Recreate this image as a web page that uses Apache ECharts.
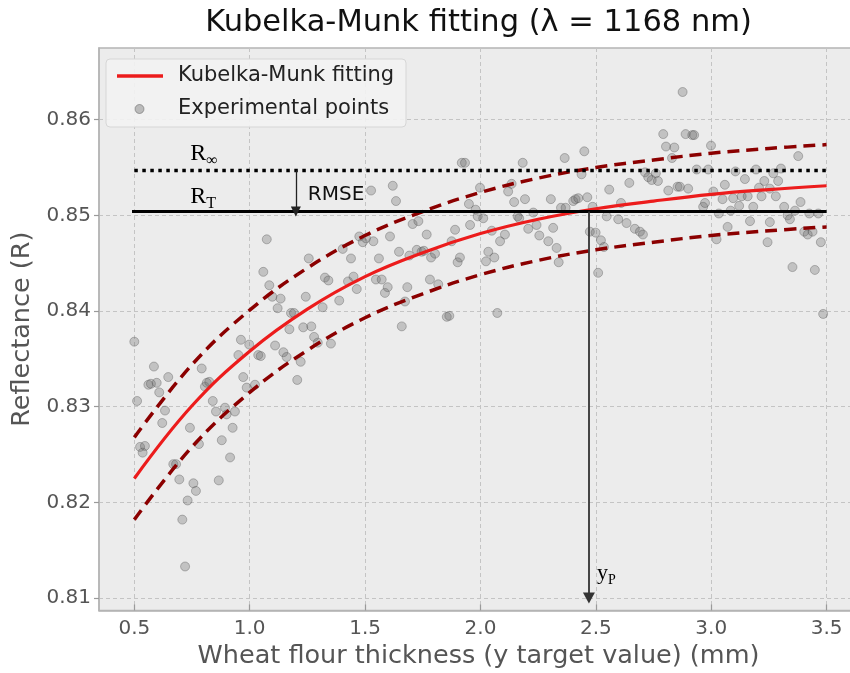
<!DOCTYPE html>
<html>
<head>
<meta charset="utf-8">
<script src="https://cdn.jsdelivr.net/npm/echarts@6/dist/echarts.min.js"></script>
<style>
  html, body { margin: 0; padding: 0; background: #ffffff; }
  #chart { width: 850px; height: 673px; }
</style>
</head>
<body>
<div id="chart"></div>
<script>
// Fitted Kubelka-Munk curve and its +/- RMSE band
const fitX   = [0.5, 0.75, 1.0, 1.25, 1.5, 1.75, 2.0, 2.25, 2.5, 2.75, 3.0, 3.25, 3.5];
const fitR   = [0.8225, 0.8301, 0.8358, 0.8402, 0.8436, 0.8461, 0.8481, 0.8496, 0.8507, 0.8515, 0.8522, 0.8527, 0.8531];
const upperR = [0.8268, 0.8344, 0.8401, 0.8445, 0.8479, 0.8504, 0.8524, 0.8539, 0.8550, 0.8558, 0.8565, 0.8570, 0.8574];
const lowerR = [0.8182, 0.8258, 0.8315, 0.8359, 0.8393, 0.8418, 0.8438, 0.8453, 0.8464, 0.8472, 0.8479, 0.8484, 0.8488];

// Measured reflectance against flour thickness
const pointsX = [
  0.500, 0.512, 0.525, 0.546, 0.536, 0.561, 0.572, 0.585, 0.597, 0.608, 0.621, 0.633, 0.647, 0.669, 0.681, 0.695,
  0.708, 0.720, 0.731, 0.741, 0.756, 0.767, 0.780, 0.792, 0.806, 0.814, 0.825, 0.840, 0.854, 0.866, 0.879, 0.893,
  0.900, 0.915, 0.926, 0.936, 0.951, 0.962, 0.972, 0.987, 0.998, 1.023, 1.037, 1.048, 1.059, 1.074, 1.085, 1.098,
  1.110, 1.121, 1.134, 1.146, 1.160, 1.172, 1.179, 1.192, 1.206, 1.221, 1.232, 1.243, 1.256, 1.267, 1.279, 1.295,
  1.316, 1.326, 1.341, 1.352, 1.388, 1.403, 1.426, 1.439, 1.450, 1.464, 1.475, 1.490, 1.504, 1.526, 1.536, 1.547,
  1.560, 1.572, 1.586, 1.598, 1.608, 1.620, 1.634, 1.647, 1.659, 1.673, 1.683, 1.692, 1.706, 1.724, 1.731, 1.745,
  1.755, 1.767, 1.781, 1.786, 1.803, 1.817, 1.854, 1.865, 1.875, 1.890, 1.901, 1.911, 1.919, 1.933, 1.955, 1.950,
  1.979, 1.988, 1.998, 2.012, 2.024, 2.034, 2.049, 2.060, 2.073, 2.085, 2.106, 2.120, 2.135, 2.146, 2.161, 2.168,
  2.183, 2.193, 2.207, 2.229, 2.243, 2.255, 2.294, 2.305, 2.315, 2.330, 2.339, 2.349, 2.365, 2.369, 2.402, 2.412,
  2.424, 2.438, 2.450, 2.463, 2.474, 2.486, 2.499, 2.510, 2.522, 2.535, 2.547, 2.558, 2.597, 2.609, 2.633, 2.645,
  2.669, 2.691, 2.704, 2.713, 2.727, 2.742, 2.760, 2.769, 2.792, 2.804, 2.814, 2.830, 2.840, 2.854, 2.864, 2.876,
  2.889, 2.900, 2.918, 2.926, 2.937, 2.965, 2.973, 2.987, 2.999, 3.009, 3.023, 3.033, 3.049, 3.059, 3.071, 3.084,
  3.095, 3.105, 3.121, 3.132, 3.146, 3.158, 3.168, 3.182, 3.194, 3.207, 3.218, 3.230, 3.244, 3.254, 3.254, 3.269,
  3.280, 3.290, 3.302, 3.316, 3.331, 3.341, 3.352, 3.363, 3.377, 3.387, 3.403, 3.418, 3.425, 3.439, 3.449, 3.464,
  3.475, 3.485
];
const pointsR = [
  0.8368, 0.8306, 0.8258, 0.8259, 0.8252, 0.8323, 0.8324, 0.8342, 0.8325, 0.8315, 0.8283, 0.8296, 0.8331, 0.8240, 0.8240, 0.8224,
  0.8182, 0.8133, 0.8202, 0.8278, 0.8220, 0.8212, 0.8261, 0.8340, 0.8321, 0.8325, 0.8326, 0.8306, 0.8295, 0.8223, 0.8265, 0.8299,
  0.8292, 0.8247, 0.8278, 0.8295, 0.8354, 0.8370, 0.8331, 0.8320, 0.8365, 0.8323, 0.8354, 0.8353, 0.8441, 0.8475, 0.8427, 0.8415,
  0.8364, 0.8403, 0.8413, 0.8357, 0.8352, 0.8381, 0.8398, 0.8398, 0.8328, 0.8347, 0.8383, 0.8415, 0.8455, 0.8384, 0.8373, 0.8367,
  0.8404, 0.8435, 0.8432, 0.8366, 0.8411, 0.8465, 0.8431, 0.8455, 0.8436, 0.8423, 0.8478, 0.8472, 0.8476, 0.8526, 0.8473, 0.8433,
  0.8455, 0.8433, 0.8419, 0.8425, 0.8478, 0.8531, 0.8515, 0.8462, 0.8384, 0.8410, 0.8425, 0.8458, 0.8491, 0.8464, 0.8494, 0.8462,
  0.8463, 0.8480, 0.8433, 0.8456, 0.8460, 0.8428, 0.8394, 0.8395, 0.8473, 0.8485, 0.8451, 0.8456, 0.8555, 0.8555, 0.8490, 0.8512,
  0.8506, 0.8499, 0.8529, 0.8497, 0.8452, 0.8462, 0.8484, 0.8456, 0.8398, 0.8473, 0.8480, 0.8525, 0.8533, 0.8514, 0.8499, 0.8497,
  0.8555, 0.8517, 0.8486, 0.8503, 0.8490, 0.8479, 0.8473, 0.8517, 0.8487, 0.8466, 0.8451, 0.8508, 0.8560, 0.8508, 0.8515, 0.8517,
  0.8518, 0.8543, 0.8567, 0.8519, 0.8483, 0.8509, 0.8482, 0.8440, 0.8474, 0.8467, 0.8499, 0.8527, 0.8496, 0.8513, 0.8492, 0.8534,
  0.8486, 0.8483, 0.8480, 0.8545, 0.8540, 0.8537, 0.8544, 0.8536, 0.8585, 0.8572, 0.8526, 0.8560, 0.8571, 0.8530, 0.8530, 0.8629,
  0.8585, 0.8528, 0.8584, 0.8584, 0.8548, 0.8509, 0.8513, 0.8548, 0.8573, 0.8525, 0.8475, 0.8502, 0.8517, 0.8532, 0.8488, 0.8505,
  0.8518, 0.8546, 0.8510, 0.8520, 0.8538, 0.8520, 0.8494, 0.8509, 0.8548, 0.8529, 0.8520, 0.8536, 0.8472, 0.8528, 0.8493, 0.8544,
  0.8520, 0.8536, 0.8549, 0.8509, 0.8500, 0.8496, 0.8446, 0.8505, 0.8562, 0.8514, 0.8483, 0.8480, 0.8502, 0.8483, 0.8443, 0.8502,
  0.8472, 0.8397
];

// Reference levels and markers
const R_INF = 0.8547;      // asymptotic reflectance
const R_T = 0.8504;        // threshold reflectance (R_inf - RMSE)
const RMSE_X = 1.2;        // where the RMSE gap is marked
const Y_P = 2.47;          // thickness where the fit reaches R_T
const lineStart = 0.5, lineEnd = 3.5;

// Axis ticks
const xTicks = [0.5, 1.0, 1.5, 2.0, 2.5, 3.0, 3.5];
const yTicks = [0.81, 0.82, 0.83, 0.84, 0.85, 0.86];

const X_MIN = 0.347, X_MAX = 3.636;
const Y_MIN = 0.8087, Y_MAX = 0.8675;

const pair = (xs, ys) => xs.map((x, i) => [x, ys[i]]);

const gridLine = { show: true, lineStyle: { color: '#c4c4c4', width: 1, type: [4, 3] } };
const sans = 'DejaVu Sans';
const serif = 'Liberation Serif';

const chart = echarts.init(document.getElementById('chart'), null, { renderer: 'canvas' });

const option = {
  animation: false,
  backgroundColor: '#ffffff',
  grid: {
    left: 99, top: 48, width: 759, height: 562.5,
    containLabel: false, outerBoundsMode: 'none',
    show: true, backgroundColor: '#ececec', borderColor: '#b4b4b4', borderWidth: 1.5
  },
  xAxis: {
    type: 'value', min: X_MIN, max: X_MAX,
    name: 'Wheat flour thickness (y target value) (mm)',
    nameLocation: 'middle', nameGap: 32,
    nameTextStyle: { fontFamily: sans, fontSize: 25.5, color: '#555555' },
    axisLine: { show: true, lineStyle: { color: '#b4b4b4', width: 1.5 } },
    axisTick: { show: true, inside: true, length: 6, customValues: xTicks, lineStyle: { color: '#9a9a9a', width: 1.2 } },
    axisLabel: { customValues: xTicks, formatter: v => v.toFixed(1), fontFamily: sans, fontSize: 20, color: '#555555', margin: 8 },
    splitLine: gridLine
  },
  yAxis: {
    type: 'value', min: Y_MIN, max: Y_MAX,
    name: 'Reflectance (R)',
    nameLocation: 'middle', nameGap: 63,
    nameTextStyle: { fontFamily: sans, fontSize: 25.5, color: '#555555' },
    axisLine: { show: true, lineStyle: { color: '#b4b4b4', width: 1.5 } },
    axisTick: { show: true, inside: false, length: 5, customValues: yTicks, lineStyle: { color: '#9a9a9a', width: 1.2 } },
    axisLabel: { customValues: yTicks, formatter: v => v.toFixed(2), fontFamily: sans, fontSize: 20, color: '#555555', margin: 8 },
    splitLine: gridLine
  },
  series: [
    {
      name: 'Experimental points', type: 'scatter', z: 2,
      data: pair(pointsX, pointsR), symbolSize: 9,
      itemStyle: { color: 'rgba(105,105,105,0.40)', borderColor: 'rgba(70,70,70,0.42)', borderWidth: 1 }
    },
    {
      name: 'upper band', type: 'line', z: 3, data: pair(fitX, upperR), smooth: 0.4,
      symbol: 'none', lineStyle: { color: '#8b0000', width: 3.5, type: [12, 7] }
    },
    {
      name: 'lower band', type: 'line', z: 3, data: pair(fitX, lowerR), smooth: 0.4,
      symbol: 'none', lineStyle: { color: '#8b0000', width: 3.5, type: [12, 7] }
    },
    {
      name: 'Kubelka-Munk fitting', type: 'line', z: 4, data: pair(fitX, fitR), smooth: 0.4,
      symbol: 'none', lineStyle: { color: '#ec1c1c', width: 3.2 }
    },
    {
      name: 'R_inf', type: 'line', z: 4, data: [[lineStart, R_INF], [lineEnd, R_INF]],
      symbol: 'none', lineStyle: { color: '#000000', width: 3.5, type: [3.5, 4.5] }
    },
    {
      name: 'R_T', type: 'line', z: 4, data: [[lineStart - 0.01, R_T], [lineEnd, R_T]],
      symbol: 'none', lineStyle: { color: '#000000', width: 3 },
      markLine: {
        silent: true, label: { show: false },
        data: [
          [
            { coord: [RMSE_X, R_INF], symbol: 'none', lineStyle: { color: '#222222', width: 1.3 } },
            { coord: [RMSE_X, R_T], symbol: 'triangle', symbolSize: [10, 10] }
          ],
          [
            { coord: [Y_P, R_T], symbol: 'none', lineStyle: { color: '#333333', width: 1.8 } },
            { coord: [Y_P, yTicks[0]], symbol: 'triangle', symbolSize: [12, 11] }
          ]
        ],
        lineStyle: { color: '#222222', width: 1.3, type: 'solid' }
      }
    }
  ]
};
chart.setOption(option);

// Annotations placed through the axis scales
const px = (x, y) => chart.convertToPixel({ gridIndex: 0 }, [x, y]);
const pInf = px(0.742, R_INF);
const pT = px(0.742, R_T);
const pRmse = px(RMSE_X, (R_INF + R_T) / 2);
const pYp = px(Y_P, yTicks[0]);
const pMid = px((X_MIN + X_MAX) / 2, Y_MAX);

const subRich = {
  r: { fontFamily: serif, fontSize: 24, color: '#111111' },
  s: { fontFamily: serif, fontSize: 16, color: '#111111', verticalAlign: 'bottom', padding: [0, 0, -3, 0] }
};

chart.setOption({
  graphic: [
    {
      type: 'text', x: pMid[0], y: 8, z: 10,
      style: { text: 'Kubelka-Munk fitting (\u03bb = 1168 nm)', fontFamily: sans, fontSize: 30.5, fill: '#111111', textAlign: 'center', textVerticalAlign: 'top' }
    },
    {
      type: 'text', x: pInf[0], y: pInf[1] - 5, z: 10,
      style: { text: '{r|R}{s|\u221e}', rich: subRich, textVerticalAlign: 'bottom' }
    },
    {
      type: 'text', x: pT[0], y: pT[1] - 3, z: 10,
      style: { text: '{r|R}{s|T}', rich: subRich, textVerticalAlign: 'bottom' }
    },
    {
      type: 'text', x: pRmse[0] + 12, y: pRmse[1] + 4, z: 10,
      style: { text: 'RMSE', fontFamily: sans, fontSize: 20, fill: '#111111', textVerticalAlign: 'middle' }
    },
    {
      type: 'text', x: pYp[0] + 8, y: pYp[1] - 14, z: 10,
      style: { text: '{r|y}{s|P}', rich: { r: { fontFamily: serif, fontSize: 22, color: '#111111' }, s: { fontFamily: serif, fontSize: 14, color: '#111111', verticalAlign: 'bottom', padding: [0, 0, -3, 0] } }, textVerticalAlign: 'bottom' }
    },
    // legend
    {
      type: 'group', x: 106, y: 59, z: 20,
      children: [
        { type: 'rect', shape: { x: 0, y: 0, width: 300, height: 68, r: 4 }, style: { fill: 'rgba(243,243,243,0.9)', stroke: '#d6d6d6', lineWidth: 1 } },
        { type: 'line', shape: { x1: 11, y1: 17, x2: 57, y2: 17 }, style: { stroke: '#ec1c1c', lineWidth: 3.5 } },
        { type: 'text', x: 72, y: 17, style: { text: 'Kubelka-Munk fitting', fontFamily: sans, fontSize: 21, fill: '#222222', textVerticalAlign: 'middle' } },
        { type: 'circle', shape: { cx: 33.5, cy: 50, r: 4.5 }, style: { fill: 'rgba(105,105,105,0.40)', stroke: 'rgba(70,70,70,0.42)', lineWidth: 1 } },
        { type: 'text', x: 72, y: 50, style: { text: 'Experimental points', fontFamily: sans, fontSize: 21, fill: '#222222', textVerticalAlign: 'middle' } }
      ]
    }
  ]
});
</script>
</body>
</html>
